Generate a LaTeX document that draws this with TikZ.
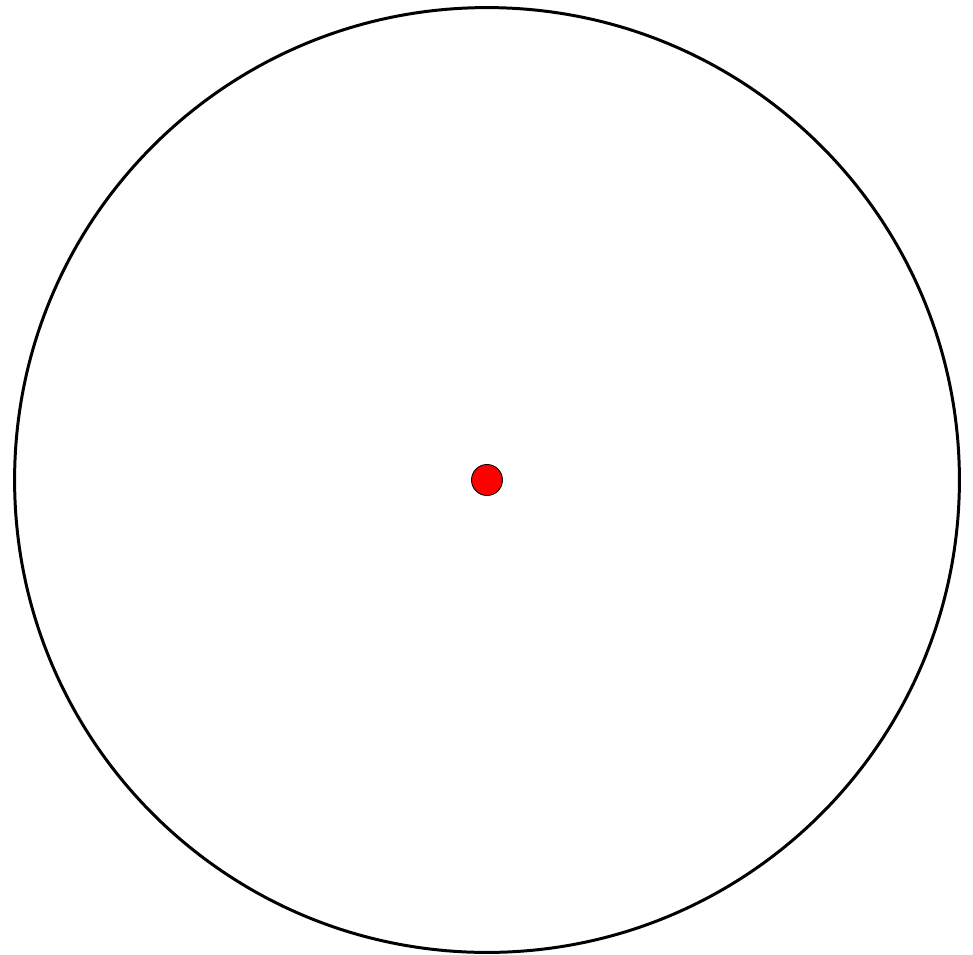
\documentclass[tikz,border=0pt]{standalone}
\usepackage{tikz}
\usetikzlibrary{positioning}

\begin{document}
\begin{tikzpicture}[
  x=0.02cm, y=-0.02cm,
  rim/.style={draw, circle, line width=1.7pt, minimum size=18.9cm, inner sep=0pt},
  centre/.style={draw, circle, line width=0.5pt, fill=red, minimum size=0.62cm, inner sep=0pt}
]
\useasboundingbox (0,0) rectangle (973,954);
\node[rim] (disc) at (487,480) {};
\node[centre] (dot) at (disc.center) {};
\end{tikzpicture}
\end{document}
